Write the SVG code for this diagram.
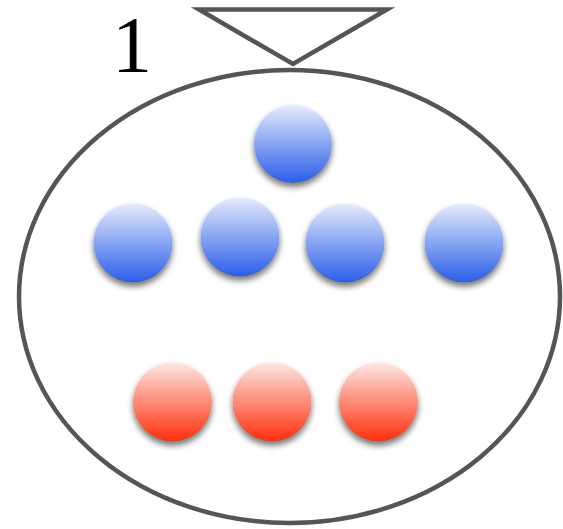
<svg xmlns="http://www.w3.org/2000/svg" width="563" height="529" viewBox="0 0 563 529">
<style>
.line{fill:none;stroke:#555;stroke-width:4.5}
.blue{fill:url(#gb);filter:url(#sh)}
.red{fill:url(#gr);filter:url(#sh)}
</style>
<defs>
<linearGradient id="gb" x1="0" y1="0" x2="0" y2="1">
<stop offset="0" stop-color="#e6ecfa"/>
<stop offset="1" stop-color="#2a5de9"/>
</linearGradient>
<linearGradient id="gr" x1="0" y1="0" x2="0" y2="1">
<stop offset="0" stop-color="#fbe8e4"/>
<stop offset="1" stop-color="#fe2e0a"/>
</linearGradient>
<filter id="sh" x="-30%" y="-30%" width="160%" height="170%">
<feGaussianBlur in="SourceAlpha" stdDeviation="3"/>
<feOffset dx="0" dy="4" result="b"/>
<feComponentTransfer><feFuncA type="linear" slope="0.55"/></feComponentTransfer>
<feMerge><feMergeNode/><feMergeNode in="SourceGraphic"/></feMerge>
</filter>
</defs>
<rect width="563" height="529" fill="#fff"/>
<g id="container">
<ellipse class="line" cx="289.5" cy="296.5" rx="270.5" ry="226.5"/>
</g>
<g id="triangle">
<polygon class="line" points="199,9.5 387,9.5 293,64"/>
</g>
<g id="label">
<text x="112" y="72" font-family="Liberation Serif, serif" font-size="80" fill="#000">1</text>
</g>
<g id="blue-top"><circle class="blue" cx="293" cy="144" r="39"/></g>
<g id="blue-1"><circle class="blue" cx="133" cy="243" r="39.5"/></g>
<g id="blue-2"><circle class="blue" cx="240" cy="237" r="39.5"/></g>
<g id="blue-3"><circle class="blue" cx="345" cy="243" r="39.5"/></g>
<g id="blue-4"><circle class="blue" cx="464" cy="243" r="39.5"/></g>
<g id="red-1"><circle class="red" cx="172.5" cy="402" r="39.5"/></g>
<g id="red-2"><circle class="red" cx="272" cy="402" r="39.5"/></g>
<g id="red-3"><circle class="red" cx="378.5" cy="402" r="39.5"/></g>
<g id="connectors"/>
</svg>
